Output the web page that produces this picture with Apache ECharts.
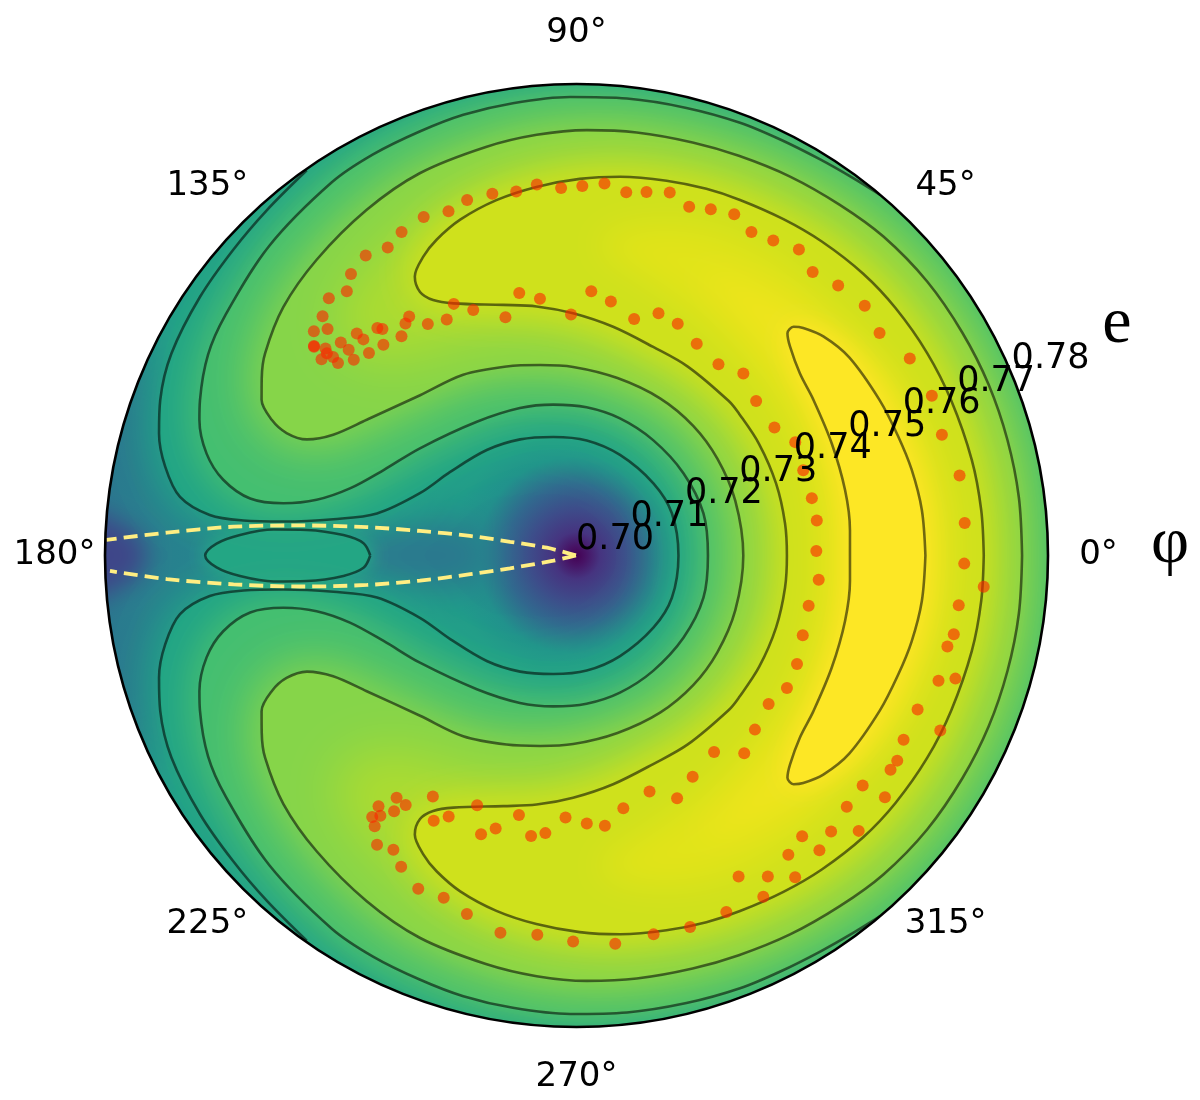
<!DOCTYPE html>
<html>
<head>
<meta charset="utf-8">
<style>html,body{margin:0;background:#fff}#chart{width:1200px;height:1100px}</style>
<script src="https://cdn.jsdelivr.net/npm/echarts@6/dist/echarts.min.js"></script>
</head>
<body>
<div id="chart"></div>
<script>
// all points are [e, phi]
// contours, upper half only: the map is symmetric about phi = 0
var contour1 = [[.7798,125.0],[.7787,131.9],[.7780,138.3],[.7775,145.5],[.7768,153.5],[.7754,159.5],[.7738,163.7],[.7714,167.8],[.7680,171.6],[.7626,173.7],[.7568,174.0],[.7501,173.4],[.7417,171.5],[.7346,168.1],[.7286,158.3],[.7257,146.5],[.7235,130.4],[.7219,115.9],[.7205,101.1],[.7196,84.9],[.7186,66.6],[.7179,43.2],[.7177,23.9],[.7173,0]];
var contour2 = [[.7800,49.9],[.7794,53.7],[.7789,58.4],[.7786,63.9],[.7785,69.3],[.7782,76.2],[.7780,83.7],[.7778,90.8],[.7775,98.0],[.7772,104.4],[.7767,110.3],[.7763,116.9],[.7757,123.3],[.7740,134.8],[.7722,145.6],[.7712,151.4],[.7691,157.6],[.7680,160.2],[.7651,164.6],[.7613,167.9],[.7562,170.1],[.7505,169.9],[.7451,167.9],[.7401,163.5],[.7358,156.1],[.7322,145.6],[.7283,126.7],[.7268,111.0],[.7259,98.7],[.7252,86.1],[.7244,72.4],[.7235,56.4],[.7229,37.6],[.7227,18.4],[.7223,0]];
var contour3 = [[.7756,0],[.7757,7.5],[.7757,15.0],[.7757,22.5],[.7756,30.0],[.7755,38.0],[.7751,46.1],[.7744,53.1],[.7738,60.6],[.7732,67.9],[.7728,74.3],[.7725,81.9],[.7722,88.6],[.7717,95.4],[.7710,102.5],[.7701,112.3],[.7686,121.3],[.7668,131.3],[.7652,139.7],[.7630,147.0],[.7613,150.6],[.7596,153.7],[.7566,156.0],[.7534,157.1],[.7498,156.7],[.7461,153.6],[.7424,147.1],[.7380,134.3],[.7362,122.1],[.7342,110.3],[.7329,100.8],[.7320,91.0],[.7309,77.0],[.7302,62.0],[.7296,48.0],[.7290,34.5],[.7285,19.0],[.7283,0]];
var contour4 = [[.7691,0],[.7691,6.4],[.7690,13.6],[.7688,22.5],[.7687,30.0],[.7685,37.8],[.7682,44.5],[.7676,52.0],[.7670,58.4],[.7664,65.3],[.7660,70.5],[.7654,76.5],[.7647,83.4],[.7639,89.5],[.7629,96.2],[.7618,102.7],[.7603,109.1],[.7586,113.9],[.7570,117.1],[.7547,120.1],[.7520,120.7],[.7497,119.3],[.7476,116.0],[.7443,106.3],[.7428,99.1],[.7411,90.8],[.7393,80.9],[.7377,69.8],[.7372,59.5],[.7368,45.4],[.7366,41.1],[.7363,31.4],[.7360,19.8],[.7358,8.8],[.7357,0]];
var contour5 = [[.7592,0],[.7591,7.5],[.7587,14.4],[.7582,20.4],[.7578,27.1],[.7572,36.0],[.7560,41.6],[.7545,45.1],[.7535,46.5],[.7520,46.5],[.7507,44.4],[.7489,39.2],[.7481,33.3],[.7473,23.7],[.7469,13.7],[.7466,5.3],[.7464,0]];
var contourLens = [[.7350,180],[.7362,176.7],[.7397,175.0],[.7460,174.6],[.7516,175.1],[.7572,176.5],[.7611,178.1],[.7630,180]];

// separatrix, read separately above and below the axis
var dashUpper = [[.7001,168.2],[.7052,165.3],[.7115,168.3],[.7184,169.6],[.7269,171.1],[.7359,172.3],[.7472,173.8],[.7584,175.2],[.7696,176.8],[.7798,178.1]];
var dashLower = [[.7001,168.2],[.7040,192.6],[.7115,190.9],[.7183,190.0],[.7269,189.1],[.7359,188.0],[.7472,186.4],[.7584,184.8],[.7696,183.3],[.7792,181.9]];

// extra shading levels of the colour field
var shade34 = [[.7722,0],[.7724,6.8],[.7723,14.4],[.7722,26.2],[.7720,34.3],[.7717,42.3],[.7712,51.1],[.7704,59.0],[.7700,66.6],[.7688,81.0],[.7681,88.5],[.7674,95.7],[.7663,103.2],[.7645,112.7],[.7619,121.7],[.7599,129.9],[.7561,137.0],[.7514,137.8],[.7468,135.4],[.7433,129.3],[.7399,113.5],[.7367,95.4],[.7338,72.9],[.7332,52.7],[.7326,28.8],[.7324,13.5],[.7320,0]];
var shade45 = [[.7642,0],[.7641,8.5],[.7631,18.1],[.7620,27.8],[.7609,37.9],[.7606,49.2],[.7605,59.0],[.7594,69.3],[.7569,79.1],[.7531,86.2],[.7488,77.2],[.7459,65.2],[.7435,50.4],[.7424,35.6],[.7414,20.5],[.7409,8.5],[.7406,0]];
var shade46 = [[.7617,0],[.7616,8.8],[.7613,20.3],[.7604,31.4],[.7576,41.7],[.7548,55.3],[.7523,66.4],[.7498,58.5],[.7473,44.6],[.7458,30.1],[.7444,14.5],[.7439,0]];
var shadeSlit = [[.7170,165],[.7350,171],[.7450,176],[.7450,184],[.7350,189],[.7170,195]];
var shadeRim = [[.7900,174],[.7750,177],[.7730,180],[.7750,183],[.7900,186]];
var shadeRimUpper = [[.79,122],[.7550,125],[.7550,149],[.79,153]];
var shadeRimLower = [[.79,207],[.7550,211],[.7550,235],[.79,238]];
var rimArc = [[.79,250],[.79,270],[.79,285],[.79,300],[.79,315],[.79,330],[.79,345],[.79,360],[.79,15],[.79,30],[.79,45],[.79,60],[.79,75],[.79,90],[.79,105],[.79,115]];
var rimArc2 = [[.79,320],[.79,335],[.79,350],[.79,5],[.79,20],[.79,35]];

// observed points
var points = [[.7624,118.4],[.7613,121.5],[.7622,125.1],[.7612,128.7],[.7594,131.0],[.7606,133.9],[.7592,136.7],[.7586,139.5],[.7571,137.7],[.7495,125.0],[.7489,126.4],[.7476,128.6],[.7513,131.2],[.7506,130.6],[.7530,134.7],[.7515,134.6],[.7485,132.5],[.7539,137.9],[.7521,137.9],[.7492,135.7],[.7570,141.4],[.7569,141.5],[.7552,140.5],[.7545,141.0],[.7546,142.4],[.7533,140.8],[.7520,141.1],[.7503,138.7],[.7630,114.3],[.7623,110.4],[.7631,107.1],[.7630,103.1],[.7626,99.4],[.7633,96.1],[.7624,92.4],[.7627,89.1],[.7633,85.7],[.7622,82.2],[.7628,79.1],[.7636,75.6],[.7622,72.1],[.7630,68.8],[.7638,65.2],[.7475,116.0],[.7452,112.8],[.7457,118.8],[.7467,122.7],[.7422,106.6],[.7456,102.3],[.7440,98.1],[.7409,91.3],[.7449,86.8],[.7435,82.3],[.7413,76.3],[.7434,71.3],[.7429,66.4],[.7413,60.4],[.7404,53.4],[.7624,61.6],[.7630,58.0],[.7642,54.0],[.7626,50.2],[.7638,45.9],[.7647,40.9],[.7638,36.3],[.7657,30.6],[.7661,24.2],[.7419,47.5],[.7402,40.7],[.7400,32.9],[.7418,27.4],[.7411,20.6],[.7411,13.7],[.7412,8.3],[.7407,1.1],[.7413,354.3],[.7403,347.8],[.7407,340.6],[.7417,333.8],[.7422,327.8],[.7412,322.3],[.7653,18.3],[.7664,11.8],[.7661,4.8],[.7658,358.8],[.7693,355.6],[.7654,352.6],[.7654,348.2],[.7648,346.2],[.7650,340.9],[.7676,342.0],[.7635,335.7],[.7423,315.7],[.7440,310.3],[.7685,334.3],[.7637,330.6],[.7646,327.4],[.7645,325.7],[.7623,321.2],[.7665,321.9],[.7626,317.1],[.7637,312.7],[.7669,315.7],[.7611,308.8],[.7648,309.5],[.7622,305.3],[.7634,300.8],[.7660,304.2],[.7610,296.8],[.7660,298.7],[.7407,305.0],[.7424,297.7],[.7419,287.2],[.7446,292.5],[.7436,280.5],[.7461,276.0],[.7455,272.2],[.7445,267.6],[.7474,263.6],[.7482,260.8],[.7451,257.5],[.7483,253.5],[.7500,251.1],[.7456,248.3],[.7493,243.9],[.7511,241.7],[.7476,239.2],[.7656,292.8],[.7659,287.0],[.7656,281.5],[.7662,275.7],[.7655,269.5],[.7647,264.1],[.7653,258.6],[.7636,253.0],[.7623,248.8],[.7626,244.6],[.7512,233.4],[.7513,235.6],[.7533,234.5],[.7542,231.7],[.7553,233.0],[.7563,232.0],[.7573,233.3],[.7596,235.4],[.7588,238.1],[.7606,240.6]];

// tick labels
var angleTicks = [0, 45, 90, 135, 180, 225, 270, 315];
var radiusTicks = [0.70, 0.71, 0.72, 0.73, 0.74, 0.75, 0.76, 0.77, 0.78];
var radiusTickAngle = 22.5;

function mirrored(pts) {
    return pts.slice().reverse().map(function (p) { return [p[0], 360 - p[1]]; });
}
function closed(pts) { return pts.concat(mirrored(pts)); }

var CX = 576.5, CY = 555.5, R = 471.5;
var OFF = 3000; // soft levels are drawn off the page so only their blurred shadow lands on the disk

// filled levels from low to high, painted on top of each other
// twice = painted two times, which gives a softer step at the contour
var fills = [
    { disk: true },
    { pts: shadeRimUpper, color: '#1f9e89', blur: 60, soft: true },
    { pts: shadeRimLower, color: '#1f9e89', blur: 60, soft: true },
    { pts: shadeSlit, color: '#2a788e', blur: 35, soft: true },
    { pts: shadeRim, color: '#3e4689', blur: 24, soft: true },
    { pts: closed(contourLens), color: '#23a684', blur: 20, twice: true },
    { pts: closed(contour1).concat(rimArc), color: '#20a486', blur: 50, twice: true },
    { pts: closed(contour2).concat(rimArc2), color: '#44bf70', blur: 45, twice: true },
    { pts: closed(contour3), color: '#86d549', blur: 55, twice: true },
    { pts: closed(shade34), color: '#acdc30', blur: 50, soft: true },
    { pts: closed(contour4), color: '#cfe11c', blur: 40, twice: true },
    { pts: closed(shade45), color: '#e2e418', blur: 35, soft: true },
    { pts: closed(shade46), color: '#efe51c', blur: 30, soft: true },
    { pts: closed(contour5), color: '#fde725', blur: 25, twice: true }
];
var fillOrder = [];
fills.forEach(function (f, i) { fillOrder.push(i); if (f.twice) fillOrder.push(i); });

function renderFill(params, api) {
    var f = fills[fillOrder[params.dataIndex]];
    var sys = params.coordSys;
    if (f.disk) {
        return {
            type: 'circle',
            shape: { cx: sys.cx, cy: sys.cy, r: sys.r },
            style: {
                fill: {
                    type: 'radial', x: 0.5, y: 0.5, r: 0.5,
                    colorStops: [
                        { offset: 0, color: '#440154' }, { offset: 0.02, color: '#471365' },
                        { offset: 0.05, color: '#463480' }, { offset: 0.1, color: '#3d4d8a' },
                        { offset: 0.15, color: '#31688e' }, { offset: 0.21, color: '#21908c' },
                        { offset: 0.27, color: '#1f9a8a' }, { offset: 0.5, color: '#20908d' },
                        { offset: 0.8, color: '#26828e' }, { offset: 1, color: '#2a788e' }
                    ]
                }
            }
        };
    }
    var pts = f.pts.map(function (p) { return api.coord(p); });
    var style = { fill: f.color, shadowBlur: f.blur, shadowColor: f.color };
    if (f.soft) {
        pts = pts.map(function (p) { return [p[0] - OFF, p[1]]; });
        style.shadowOffsetX = OFF;
    }
    return {
        type: 'polygon',
        clipPath: { type: 'circle', shape: { cx: sys.cx, cy: sys.cy, r: sys.r } },
        shape: { points: pts, smooth: 0.33 },
        style: style
    };
}

function contourSeries(pts) {
    return {
        type: 'line', coordinateSystem: 'polar', polarIndex: 0, z: 3,
        symbol: 'none', smooth: 0.33, silent: true,
        lineStyle: { color: 'rgba(0,0,0,0.55)', width: 2.6 },
        data: pts
    };
}
function dashSeries(pts) {
    return {
        type: 'line', coordinateSystem: 'polar', polarIndex: 0, z: 4,
        symbol: 'none', smooth: 0.33, silent: true,
        lineStyle: { color: '#ffee82', width: 3.8, type: [14, 7] },
        data: pts
    };
}

var myChart = echarts.init(document.getElementById('chart'));
myChart.setOption({
    animation: false,
    backgroundColor: '#fff',
    polar: [
        { center: [CX, CY], radius: R },
        { center: [CX, CY], radius: 522 } // ring that carries the angle labels
    ],
    angleAxis: [
        {
            polarIndex: 0, type: 'value', min: 0, max: 360, interval: 45, startAngle: 0, clockwise: false, z: 6,
            axisLine: { lineStyle: { color: '#000', width: 2.6 } },
            axisTick: { show: false },
            splitLine: { show: false },
            axisLabel: { show: false }
        },
        { polarIndex: 1, type: 'value', min: 0, max: 360, startAngle: 0, clockwise: false, show: false }
    ],
    radiusAxis: [
        { polarIndex: 0, type: 'value', min: 0.70, max: 0.78, show: false },
        { polarIndex: 1, type: 'value', min: 0, max: 1, show: false }
    ],
    graphic: {
        elements: [
            { type: 'text', x: 1117, y: 325, z: 10, style: { text: 'e', fontFamily: 'Liberation Serif', fontSize: 66, fill: '#000', align: 'center', verticalAlign: 'middle' } },
            { type: 'text', x: 1170, y: 545, z: 10, style: { text: 'φ', fontFamily: 'Liberation Serif', fontSize: 66, fill: '#000', align: 'center', verticalAlign: 'middle' } }
        ]
    },
    series: [
        {
            type: 'custom', coordinateSystem: 'polar', polarIndex: 0, z: 1, silent: true,
            renderItem: renderFill,
            data: fillOrder.map(function () { return [0.75, 90]; })
        },
        contourSeries(closed(contourLens)),
        contourSeries(closed(contour1)),
        contourSeries(closed(contour2)),
        contourSeries(closed(contour3)),
        contourSeries(closed(contour4)),
        contourSeries(closed(contour5)),
        dashSeries(dashUpper),
        dashSeries(dashLower),
        {
            type: 'scatter', coordinateSystem: 'polar', polarIndex: 0, z: 5, silent: true,
            symbolSize: 12,
            itemStyle: { color: 'rgba(250,40,0,0.62)', opacity: 1 },
            data: points
        },
        {
            // radial tick labels: bottom-left corner on the tick, they overlap in the original too
            type: 'scatter', coordinateSystem: 'polar', polarIndex: 0, z: 8, silent: true,
            symbolSize: 1,
            itemStyle: { color: 'rgba(0,0,0,0)', opacity: 1 },
            labelLayout: { hideOverlap: false },
            label: {
                show: true, position: [0, 2], align: 'left', verticalAlign: 'bottom',
                fontFamily: 'DejaVu Sans', fontSize: 35, color: '#000',
                formatter: function (p) { return p.value[0].toFixed(2); }
            },
            data: radiusTicks.map(function (e) { return [e, radiusTickAngle]; })
        },
        {
            // angle tick labels, centred on the outer ring
            type: 'scatter', coordinateSystem: 'polar', polarIndex: 1, z: 7, silent: true,
            symbolSize: 1,
            itemStyle: { color: 'rgba(0,0,0,0)', opacity: 1 },
            label: {
                show: true, position: 'inside',
                fontFamily: 'DejaVu Sans', fontSize: 34, color: '#000',
                formatter: function (p) { return p.value[1] + '°'; }
            },
            data: angleTicks.map(function (a) { return [1, a]; })
        }
    ]
});
</script>
</body>
</html>
